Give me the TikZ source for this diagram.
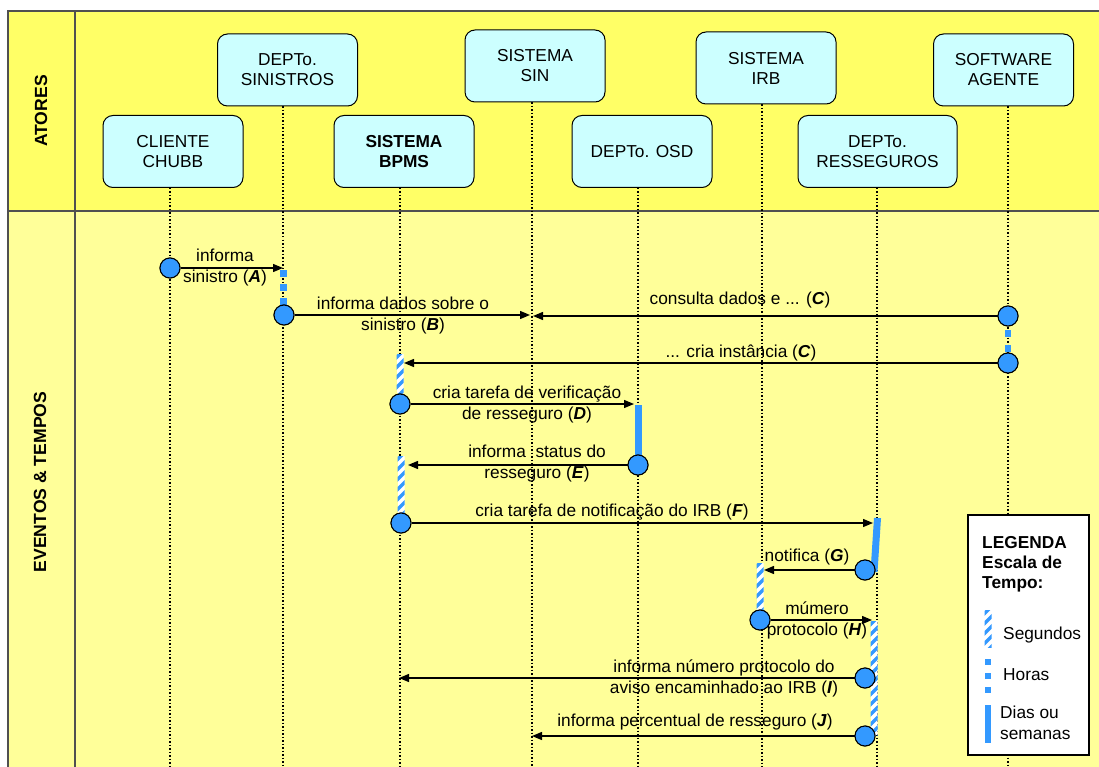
\documentclass[tikz,border=0pt]{standalone}
\usepackage{fontspec}
\setmainfont{Liberation Sans}
\usetikzlibrary{arrows.meta,calc}
\definecolor{hdr}{RGB}{255,255,102}
\definecolor{bodyc}{RGB}{255,255,153}
\definecolor{boxc}{RGB}{204,255,255}
\definecolor{evb}{RGB}{51,153,255}
\definecolor{framec}{RGB}{80,80,80}
\newcommand\mysecbar[3]{%
  \begin{scope}
  \clip (#1-3.5,#2) rectangle (#1+3.5,#3);
  \fill[white] (#1-3.5,#2) rectangle (#1+3.5,#3);
  \foreach \i in {0,...,14}{\draw[evb,line width=3.3pt] (#1-6,#2+10*\i+6) -- (#1+6,#2+10*\i-6);}
  \end{scope}}
\tikzset{
 actor/.style={draw=black, line width=1pt, fill=boxc, rounded corners=10pt, minimum width=140pt, minimum height=72pt, align=center, font=\fontsize{17.3}{20}\selectfont, inner sep=0pt},
 life/.style={line width=1.3pt, dash pattern=on 1.5pt off 2pt, black},
 msg/.style={line width=1.3pt, -{Triangle[length=10pt,width=8pt]}},
 ev/.style={circle, draw=black, line width=1pt, fill=evb, minimum size=20pt, inner sep=0pt},
 lbl/.style={align=center, font=\fontsize{17.3}{21}\selectfont, inner sep=0pt},
 hoursbar/.style={evb, line width=7pt, dash pattern=on 7pt off 7pt},
 daysbar/.style={evb, line width=7pt},
 sidelbl/.style={rotate=90, font=\bfseries\fontsize{17.6}{20}\selectfont, inner sep=0pt},
}
\begin{document}
\begin{tikzpicture}[x=1pt,y=-1pt]
\useasboundingbox (0,0) rectangle (1099,767);
\fill[white] (0,0) rectangle (1099,767);
\fill[hdr] (8,11) rectangle (1099,211);
\fill[bodyc] (8,211) rectangle (1099,767);
\draw[framec, line width=2pt] (8,767) -- (8,11) -- (1099,11);
\draw[framec, line width=1.5pt] (8,211) -- (1099,211);
\draw[framec, line width=1.5pt] (75,11) -- (75,767);
\node[sidelbl] (atores) at (41,111) {ATORES};
\node[sidelbl] (eventos) at (40,482) {EVENTOS \& TEMPOS};
% actors
\node[actor] (cliente) at (173,151.5) {CLIENTE\\CHUBB};
\node[actor] (sinistros) at (287.5,70) {DEPTo.\\SINISTROS};
\node[actor, font=\bfseries\fontsize{17.3}{20}\selectfont] (bpms) at (404,151.5) {SISTEMA\\BPMS};
\node[actor] (sin) at (535,66) {SISTEMA\\SIN};
\node[actor] (osd) at (642,151.5) {DEPTo. OSD};
\node[actor] (irb) at (766,68) {SISTEMA\\IRB};
\node[actor, minimum width=159pt] (ress) at (877.5,151.5) {DEPTo.\\RESSEGUROS};
\node[actor] (soft) at (1003.5,70) {SOFTWARE\\AGENTE};
% lifelines
\foreach \n/\x in {cliente/170, sinistros/283, bpms/400, sin/532, osd/638, irb/762, ress/877, soft/1008}{
  \coordinate (L\n) at (\x,767);
  \draw[life] (\n.south -| L\n) -- (L\n);
}
% time bars
\draw[hoursbar] (283,270) -- (283,312);
\draw[hoursbar, line width=6pt, dash pattern=on 7pt off 8pt] (1008,330) -- (1008,353);
\mysecbar{400}{354}{393}
\mysecbar{401}{456}{513}
\mysecbar{760}{563}{612}
\mysecbar{874}{621}{735}
\draw[daysbar] (638,405) -- (638,460);
\draw[daysbar] (877.5,518) -- (874,572);
% events
\node[ev] (eA) at (170,268) {};
\node[ev] (eB) at (284,315) {};
\node[ev] (eC1) at (1008,316) {};
\node[ev] (eC2) at (1008,363) {};
\node[ev] (eD) at (400,404) {};
\node[ev] (eE) at (638,465) {};
\node[ev] (eF) at (401,523) {};
\node[ev] (eG) at (865,570) {};
\node[ev] (eH) at (760,620) {};
\node[ev] (eI) at (865,678) {};
\node[ev] (eJ) at (865,736) {};
% arrow targets
\coordinate (tA) at (283,268);
\coordinate (tB) at (530,315);
\coordinate (tC1) at (533,316);
\coordinate (tC2) at (404,363);
\coordinate (tD) at (634,404);
\coordinate (tE) at (408,465);
\coordinate (tF) at (873,523);
\coordinate (tG) at (764,570);
\coordinate (tH) at (872,620);
\coordinate (tI) at (399,678);
\coordinate (tJ) at (532,736);
\foreach \e in {A,B,C1,C2,D,E,F,G,H,I,J}{\draw[msg] (e\e) -- (t\e);}
\foreach \e in {A,B,C1,C2,D,E,F,G,H,I,J}{\node[ev] at (e\e) {};}
% labels
\node[lbl] (lA) at (225,268) {informa\\sinistro (\textbf{\textit{A}})};
\node[lbl] (lB) at (403,316) {informa dados sobre o\\sinistro (\textbf{\textit{B}})};
\node[lbl] (lC1) at (740,300) {consulta dados e ... (\textbf{\textit{C}})};
\node[lbl] (lC2) at (741,353) {... cria instância (\textbf{\textit{C}})};
\node[lbl] (lD) at (527,405) {cria tarefa de verificação\\de resseguro (\textbf{\textit{D}})};
\node[lbl] (lE) at (537,464) {informa\ \ status do\\resseguro (\textbf{\textit{E}})};
\node[lbl] (lF) at (612,512) {cria tarefa de notificação do IRB (\textbf{\textit{F}})};
\node[lbl] (lG) at (807,557) {notifica (\textbf{\textit{G}})};
\node[lbl] (lH) at (817,620) {múmero\\protocolo (\textbf{\textit{H}})};
\node[lbl] (lI) at (724,678) {informa número protocolo do\\aviso encaminhado ao IRB (\textbf{\textit{I}})};
\node[lbl] (lJ) at (695,722) {informa percentual de resseguro (\textbf{\textit{J}})};
% legend
\node[draw=black, line width=1.2pt, fill=white, minimum width=121pt, minimum height=240pt, inner sep=0pt] (leg) at (1028.5,635) {};
\node[anchor=north west, align=left, inner sep=0pt, font=\bfseries\fontsize{17.3}{20}\selectfont] (legt) at (982,536.5) {LEGENDA\\Escala de\\Tempo:};
\mysecbar{988}{610}{647}
\draw[hoursbar, line width=6pt, dash pattern=on 6pt off 8pt] (988,659) -- (988,694);
\draw[daysbar, line width=6pt] (988,705) -- (988,743);
\node[lbl, anchor=west] (lsec) at (1003,635) {Segundos};
\node[lbl, anchor=west] (lhor) at (1003,675) {Horas};
\node[lbl, anchor=west, align=left] (ldia) at (1000,723) {Dias ou\\semanas};
\end{tikzpicture}
\end{document}
